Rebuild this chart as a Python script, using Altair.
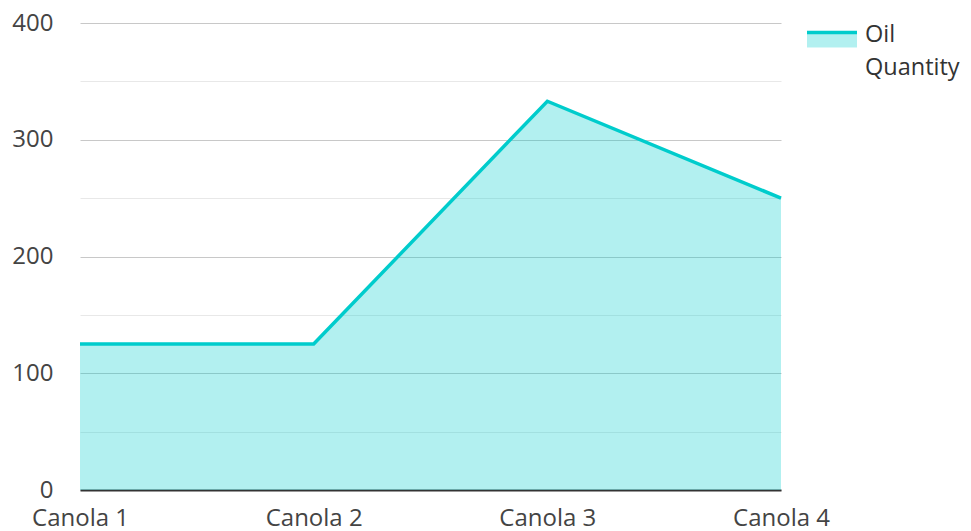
import altair as alt
import pandas as pd

categories = ["Canola 1", "Canola 2", "Canola 3", "Canola 4"]
oil_quantity = [125, 125, 333, 250]
series_name = "Oil Quantity"
legend_lines = ["Oil", "Quantity"]
y_ticks = [0, 50, 100, 150, 200, 250, 300, 350, 400]

df = pd.DataFrame({"cat": categories, "value": oil_quantity, "series": [series_name] * len(categories)})

LINE = "#00cccc"
FILL = "rgba(0,204,204,0.3)"
FONT = "Open Sans"

x = alt.X("cat:N", sort=categories, title=None,
          scale=alt.Scale(type="point", padding=0),
          axis=alt.Axis(labelAngle=0, ticks=False, domainColor="#333333", domainWidth=2,
                        labelPadding=16, labelFontSize=24, labelColor="#444444", labelFont=FONT,
                        grid=False))
y = alt.Y("value:Q", title=None,
          scale=alt.Scale(domain=[0, 400], nice=False),
          axis=alt.Axis(values=y_ticks, ticks=False, domain=False, labelPadding=27,
                        labelFontSize=24, labelColor="#444444", labelFont=FONT,
                        labelExpr="datum.value % 100 === 0 ? datum.label : ''",
                        gridColor={"condition": {"test": "datum.value % 100 === 0", "value": "#c8c8c8"},
                                   "value": "#e8e8e8"},
                        gridWidth=1))

area = alt.Chart(df).mark_area(line=False).encode(
    x=x, y=y,
    color=alt.Color("series:N",
                    scale=alt.Scale(domain=[series_name], range=[FILL]),
                    legend=alt.Legend(
                        title=legend_lines,
                        titleOrient="right", titlePadding=1,
                        titleFont=FONT, titleFontSize=23.5, titleFontWeight="normal",
                        titleColor="#333333", titleLineHeight=33,
                        titleAnchor="start", titleBaseline="top", titleAlign="left",
                        orient="right", offset=24, padding=0,
                        symbolType="M-1,-0.7L1,-0.7L1,-0.1L-1,-0.1Z",
                        symbolSize=2500, symbolStrokeColor=LINE, symbolStrokeWidth=3.5,
                        symbolDash=[50, 300], symbolOpacity=1,
                        labelExpr="''", labelOffset=0, labelFontSize=1,
                    )),
)
line = alt.Chart(df).mark_line(color=LINE, strokeWidth=3.5).encode(x=x, y=y)

chart = alt.layer(area, line).properties(
    width=701, height=467,
    autosize=alt.AutoSizeParams(type="none"),
    padding={"left": 72, "top": 15, "right": 182, "bottom": 44},
).configure_view(stroke=None)

chart.save("out.html", embed_options={"renderer": "svg", "actions": False})
